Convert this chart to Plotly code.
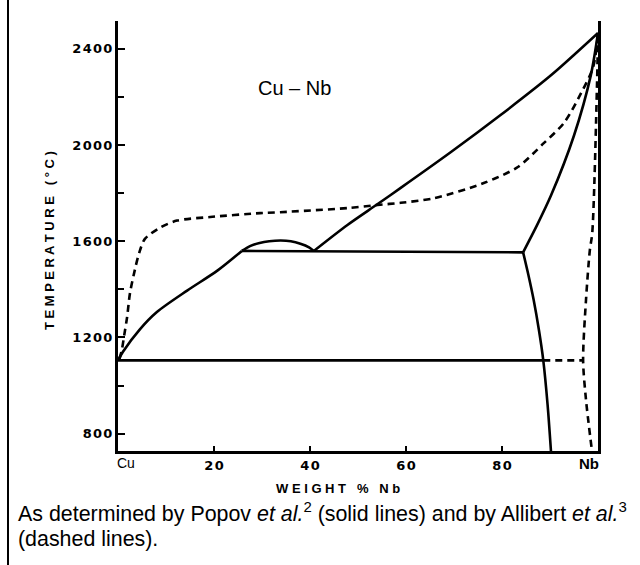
import plotly.graph_objects as go

# ---------------- data (wt.% Nb, temperature in deg C) ----------------
# Popov et al. (solid lines)
liq_left_x = [0, 1.0, 4.6, 8.1, 14.4, 20.7, 25.8]
liq_left_T = [1105, 1140, 1235, 1306, 1395, 1478, 1560]

dome_x = [25.8, 27.5, 29.5, 31.5, 33.9, 36.0, 38.0, 39.8, 40.8]
dome_T = [1560, 1580, 1593, 1600, 1603, 1600, 1590, 1575, 1560]

monotectic_x = [25.8, 84.4]
monotectic_T = [1560, 1554]

liq_right_x = [40.8, 47.8, 54.1, 58.9, 69.3, 79.7, 90.2, 100]
liq_right_T = [1560, 1668, 1755, 1822, 1970, 2125, 2290, 2466]

solidus_nb_x = [84.4, 87.3, 90.2, 95.0, 98.5, 100]
solidus_nb_T = [1554, 1667, 1790, 2040, 2290, 2466]

solvus_nb_x = [84.4, 85.5, 86.6, 87.7, 88.6, 89.5, 90.2]
solvus_nb_T = [1554, 1460, 1356, 1230, 1105, 920, 728]

eutectic_x = [0, 88.6]
eutectic_T = [1105, 1105]

# Allibert et al. (dashed lines)
a_liq_x = [0.3, 0.8, 1.3, 1.9, 2.5, 3.5, 4.4, 5.6, 8.8, 12.3, 19.2, 29.6, 33.8,
           47.8, 54.1, 58.9, 65.8, 76.2, 83.3, 88.7, 92.9, 96.5, 99.0, 100]
a_liq_T = [1110, 1148, 1210, 1285, 1385, 1480, 1551, 1610, 1657, 1686, 1701, 1717, 1721,
           1738, 1751, 1760, 1779, 1842, 1909, 2008, 2092, 2217, 2325, 2466]

a_solvus_x = [100, 99.8, 98.8, 98.3, 97.5, 96.9, 97.5, 98.7]
a_solvus_T = [2466, 2258, 1634, 1563, 1356, 1105, 941, 735]

a_eutectic_x = [88.6, 96.9]
a_eutectic_T = [1105, 1105]

# axes / ticks
y_tick_vals = [800, 1200, 1600, 2000, 2400]
y_tick_text = ["800", "1200", "1600", "2000", "2400"]
y_minor_vals = [1000, 1400, 1800, 2200]
x_tick_vals = [20, 40, 60, 80]
x_tick_text = ["20", "40", "60", "80"]

def spaced(s):
    return "\u200a".join(s)

W, H = 640, 565
X0, X1 = 118, 598     # plot left/right px
Y0, Y1 = 21, 451      # plot top/bottom px

fig = go.Figure()

solid = dict(color="black", width=2.6)
solid_s = dict(color="black", width=2.6, shape="spline", smoothing=0.8)
dashed = dict(color="black", width=2.6, dash="7px,5px")
dashed_s = dict(color="black", width=2.6, dash="7px,5px", shape="spline", smoothing=0.8)

for xs, ts, ln in [(liq_left_x, liq_left_T, solid_s), (dome_x, dome_T, solid_s),
                   (monotectic_x, monotectic_T, solid),
                   (liq_right_x, liq_right_T, solid_s), (solidus_nb_x, solidus_nb_T, solid_s),
                   (solvus_nb_x, solvus_nb_T, solid_s), (eutectic_x, eutectic_T, solid)]:
    fig.add_trace(go.Scatter(x=xs, y=ts, mode="lines", line=ln,
                             hoverinfo="skip", showlegend=False, cliponaxis=False))

for xs, ts, ln in [(a_liq_x, a_liq_T, dashed_s), (a_solvus_x, a_solvus_T, dashed_s),
                   (a_eutectic_x, a_eutectic_T, dashed)]:
    fig.add_trace(go.Scatter(x=xs, y=ts, mode="lines", line=ln,
                             hoverinfo="skip", showlegend=False, cliponaxis=False))

tickfont = dict(family="DejaVu Sans", size=13, color="black", weight="bold")

fig.update_layout(
    width=W, height=H,
    margin=dict(l=0, r=0, t=0, b=0),
    paper_bgcolor="white", plot_bgcolor="white",
    showlegend=False,
    xaxis=dict(
        domain=[X0 / W, X1 / W], range=[0, 100],
        showgrid=False, zeroline=False,
        showline=True, linecolor="black", linewidth=3, mirror=False,
        tickmode="array", tickvals=x_tick_vals,
        ticktext=[spaced(t) for t in x_tick_text],
        ticks="inside", ticklen=5, tickwidth=2, tickcolor="black",
        tickfont=tickfont,
    ),
    yaxis=dict(
        domain=[1 - Y1 / H, 1 - Y0 / H], range=[728, 2516],
        showgrid=False, zeroline=False,
        showline=True, linecolor="black", linewidth=3, mirror=True,
        tickmode="array", tickvals=y_tick_vals,
        ticktext=[spaced(t) for t in y_tick_text],
        ticks="inside", ticklen=7, tickwidth=2, tickcolor="black",
        tickfont=tickfont,
        minor=dict(tickmode="array", tickvals=y_minor_vals, ticks="inside",
                   ticklen=6, tickwidth=2, tickcolor="black", showgrid=False),
    ),
)

ann = []
ann.append(dict(text="Cu", x=126 / W, y=1 - 463 / H, xref="paper", yref="paper",
                showarrow=False, xanchor="center", yanchor="middle",
                font=dict(family="Liberation Sans", size=14, color="black")))
ann.append(dict(text="Nb", x=589 / W, y=1 - 463 / H, xref="paper", yref="paper",
                showarrow=False, xanchor="center", yanchor="middle",
                font=dict(family="Liberation Sans", size=15, color="black", weight="bold")))
ann.append(dict(text="Cu \u2013 Nb", x=294 / W, y=1 - 88 / H, xref="paper", yref="paper",
                showarrow=False, xanchor="center", yanchor="middle",
                font=dict(family="Liberation Sans", size=20, color="black")))
ann.append(dict(text="W E I G H T \u00a0\u00a0% \u00a0\u00a0N b", x=338 / W, y=1 - 489 / H,
                xref="paper", yref="paper", showarrow=False,
                xanchor="center", yanchor="middle",
                font=dict(family="Liberation Sans", size=13, color="black", weight="bold")))
ann.append(dict(text="T E M P E R A T U R E \u00a0\u00a0( ° C )", x=50 / W, y=1 - 241 / H,
                xref="paper", yref="paper", showarrow=False, textangle=-90,
                xanchor="center", yanchor="middle",
                font=dict(family="Liberation Sans", size=13, color="black", weight="bold")))
ann.append(dict(text="As determined by Popov <i>et al.</i><sup>2</sup> (solid lines) and by Allibert <i>et al.</i><sup>3</sup>",
                x=16 / W, y=1 - 512 / H, xref="paper", yref="paper", showarrow=False,
                xanchor="left", yanchor="middle",
                font=dict(family="Liberation Sans", size=21.4, color="black")))
ann.append(dict(text="(dashed lines).", x=16 / W, y=1 - 539 / H, xref="paper", yref="paper",
                showarrow=False, xanchor="left", yanchor="middle",
                font=dict(family="Liberation Sans", size=21.4, color="black")))
fig.update_layout(annotations=ann)

fig.add_shape(type="line", xref="paper", yref="paper",
              x0=8 / W, x1=8 / W, y0=0, y1=1, line=dict(color="black", width=2))

fig.write_html("out.html")
